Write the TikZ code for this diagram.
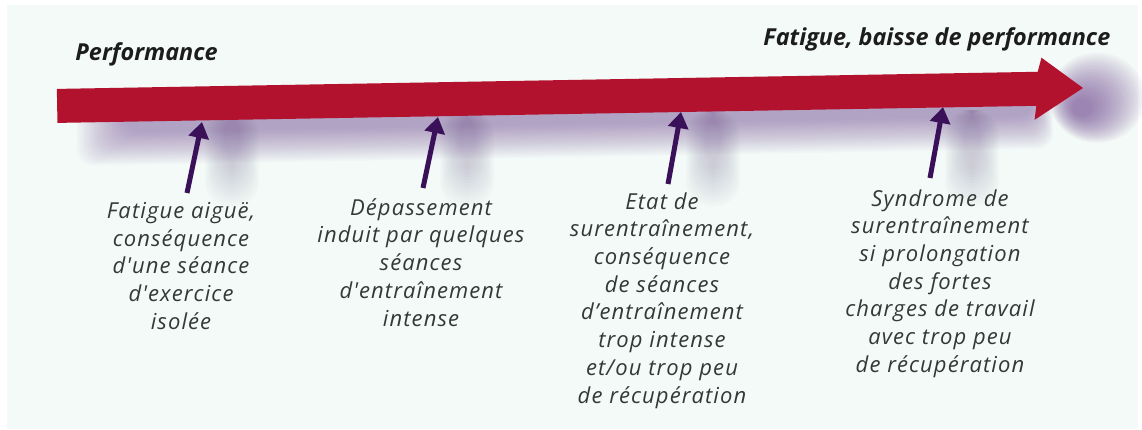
\documentclass[tikz,border=0pt]{standalone}
\usepackage{fontspec}
\newfontfamily\labelfont{Open Sans}
\newfontfamily\stagefont{Open Sans}[LetterSpace=5]
\usetikzlibrary{arrows.meta}
\definecolor{panel}{HTML}{F3FAF7}
\definecolor{bandred}{HTML}{B3122E}
\definecolor{pointer}{HTML}{3A1058}
\definecolor{haze}{HTML}{6A3F8E}
\definecolor{streak}{HTML}{86789E}
\definecolor{inkgray}{HTML}{323A36}
\definecolor{titleink}{HTML}{1C1C1C}
\tikzset{
  heading/.style={font=\labelfont\bfseries\itshape\fontsize{11.7}{13}\selectfont,
    text=titleink, inner sep=0pt},
  stage/.style={font=\stagefont\itshape\fontsize{11}{13.85}\selectfont,
    text=inkgray, align=center, inner sep=0pt, anchor=north},
  pointerarrow/.style={draw=pointer, line width=2.5pt,
    -{Triangle[width=10pt,length=8pt]}},
}
\begin{document}
\begin{tikzpicture}[x=0.5pt,y=-0.5pt]
\useasboundingbox (0,0) rectangle (1142,429);
\fill[white] (0,0) rectangle (1142,429);
\fill[panel] (7,5) rectangle (1138,429);

% soft vertical hazes hanging below the band
\foreach \c in {232,467,713,972}{
  \foreach \i in {0,...,15}
    \fill[streak, opacity=0.025, rounded corners=12]
      (\c-27+1.3*\i,110) rectangle (\c+27-1.3*\i,206-2.6*\i);
}

% band shadow and glow round the tip, tilted with the band
\begin{scope}[rotate around={1.0:(1083,88)}]
  \foreach \i in {0,...,19}
    \fill[haze, opacity=0.027, rounded corners=8]
      (76+2.5*\i,92) rectangle (1052-1*\i,148-1.7*\i);
  \foreach \i in {0,...,19}
    \fill[haze, opacity=0.045]
      (1097-0.8*\i,98+0.5*\i) ellipse ({48-2*\i} and {45-1.9*\i});
  % the band itself
  \fill[bandred] (57,71) -- (1038,71) -- (1042,57) -- (1083,88)
    -- (1034,119) -- (1036,105) -- (57,105) -- cycle;
\end{scope}

% headings
\node[heading, anchor=base west] (perf) at (75,60) {Performance};
\node[heading, anchor=base west] (fat) at (763,45) {Fatigue, baisse de performance};

% stages
\node[stage] (s1) at (181,202) {Fatigue aiguë,\\conséquence\\d'une séance\\d'exercice\\isolée};
\node[stage] (s2) at (421,198) {Dépassement\\induit par quelques\\séances\\d'entraînement\\intense};
\node[stage] (s3) at (662,192) {Etat de\\surentraînement,\\conséquence\\de séances\\d’entraînement\\trop intense\\et/ou trop peu\\de récupération};
\node[stage] (s4) at (940,189) {Syndrome de\\surentraînement\\si prolongation\\des fortes\\charges de travail\\avec trop peu\\de récupération};

% pointers up to the band
\coordinate (t1) at (187,193); \coordinate (h1) at (202,122);
\coordinate (t2) at (423,188); \coordinate (h2) at (438,117);
\coordinate (t3) at (668,184); \coordinate (h3) at (681,112);
\coordinate (t4) at (930,178); \coordinate (h4) at (943,107);
\foreach \k in {1,2,3,4}
  \draw[pointerarrow] (t\k) -- (h\k);
\end{tikzpicture}
\end{document}
